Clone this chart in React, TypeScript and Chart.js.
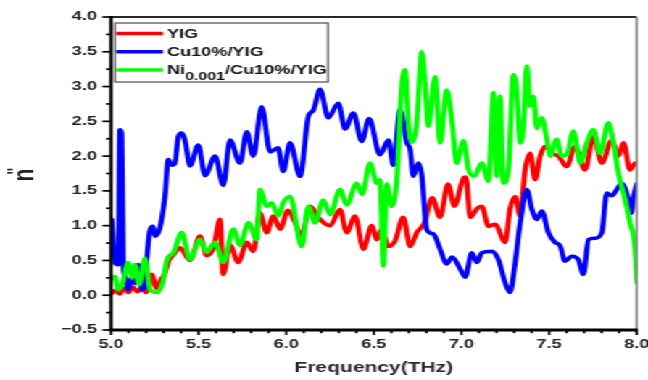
import React, { useEffect, useRef } from "react";
import { Chart, registerables } from "chart.js";

Chart.register(...registerables);

// The figure is laid out on a narrower canvas and widened horizontally.
const CANVAS_W = 447;
const CANVAS_H = 380;
const STRETCH = 648 / CANVAS_W;
const FONT = '"Liberation Sans", Arial, sans-serif';

// YIG
const freqYIG = [
  5.0, 5.025, 5.05, 5.075, 5.1, 5.125, 5.15, 5.175, 5.2, 5.232, 5.26, 5.28, 5.308, 5.33, 5.356,
  5.394, 5.451, 5.508, 5.546, 5.585, 5.622, 5.64, 5.679, 5.726, 5.775, 5.812, 5.85, 5.889, 5.926,
  5.965, 6.01, 6.05, 6.085, 6.136, 6.193, 6.25, 6.307, 6.345, 6.393, 6.44, 6.488, 6.517, 6.545,
  6.583, 6.621, 6.668, 6.707, 6.745, 6.79, 6.833, 6.878, 6.923, 6.96, 7.01, 7.025, 7.05, 7.09,
  7.116, 7.154, 7.192, 7.249, 7.277, 7.306, 7.335, 7.363, 7.392, 7.42, 7.449, 7.478, 7.515, 7.553,
  7.601, 7.648, 7.705, 7.753, 7.801, 7.858, 7.896, 7.924, 7.962, 7.991, 8.0,
];
const nYIG = [
  0.02, 0.07, 0.02, 0.1, 0.04, 0.12, 0.05, 0.1, 0.04, 0.3, 0.1, 0.2, 0.32, 0.5, 0.58,
  0.68, 0.5, 0.85, 0.57, 0.68, 1.09, 0.3, 0.72, 0.47, 0.76, 0.63, 1.18, 0.9, 1.14,
  0.95, 1.22, 1.05, 0.85, 1.28, 1.09, 1.0, 1.23, 0.9, 1.14, 0.66, 1.0, 0.8, 0.95,
  0.7, 0.78, 1.12, 0.7, 0.9, 1.05, 1.4, 1.12, 1.6, 1.28, 1.68, 1.7, 1.12, 1.25,
  1.28, 0.99, 1.02, 0.76, 1.24, 1.42, 1.14, 1.8, 2.04, 1.66, 2.0, 2.14, 2.04, 2.0,
  1.85, 2.14, 1.8, 2.28, 1.9, 2.23, 2.0, 2.19, 1.8, 1.9, 1.88,
];

// Cu10%/YIG
const freqCu = [
  5.004, 5.023, 5.042, 5.051, 5.061, 5.07, 5.08, 5.099, 5.118, 5.137, 5.156, 5.175, 5.194, 5.204,
  5.223, 5.241, 5.251, 5.27, 5.289, 5.308, 5.327, 5.346, 5.365, 5.384, 5.404, 5.422, 5.451, 5.498,
  5.537, 5.594, 5.641, 5.679, 5.736, 5.775, 5.812, 5.86, 5.908, 5.953, 5.983, 6.022, 6.079, 6.126,
  6.155, 6.193, 6.24, 6.297, 6.336, 6.383, 6.431, 6.473, 6.535, 6.583, 6.611, 6.65, 6.688, 6.707,
  6.725, 6.754, 6.773, 6.802, 6.84, 6.878, 6.916, 6.946, 6.992, 7.021, 7.059, 7.088, 7.116, 7.173,
  7.211, 7.249, 7.277, 7.306, 7.335, 7.373, 7.401, 7.43, 7.458, 7.496, 7.534, 7.563, 7.591, 7.63,
  7.667, 7.696, 7.725, 7.763, 7.801, 7.829, 7.858, 7.886, 7.915, 7.953, 7.968, 7.981, 8.0,
];
const nCu = [
  1.09, 0.47, 0.44, 2.38, 2.33, 0.44, 0.26, 0.08, 0.27, 0.17, 0.44, 0.08, 0.12, 0.5,
  0.94, 0.99, 0.85, 0.9, 1.09, 1.42, 1.95, 1.87, 1.9, 2.28, 2.33, 2.23, 1.86, 2.16,
  1.72, 2.0, 1.58, 2.23, 1.9, 2.35, 2.0, 2.71, 2.06, 2.12, 1.78, 2.19, 1.71, 2.57,
  2.66, 2.96, 2.55, 2.76, 2.39, 2.62, 2.21, 2.54, 2.02, 2.23, 1.87, 2.67, 2.19, 2.1,
  1.71, 1.9, 1.74, 0.94, 0.88, 0.66, 0.45, 0.55, 0.38, 0.26, 0.61, 0.47, 0.61, 0.63,
  0.51, 0.18, 0.04, 0.46, 1.04, 1.52, 1.24, 1.09, 1.21, 0.9, 0.76, 0.71, 0.49, 0.56,
  0.51, 0.3, 0.8, 0.82, 0.9, 1.47, 1.43, 1.52, 1.61, 1.37, 1.18, 1.4, 1.6,
];

// Ni0.001/Cu10%/YIG
const freqNi = [
  5.0, 5.023, 5.04, 5.063, 5.099, 5.12, 5.137, 5.16, 5.194, 5.223, 5.263, 5.297, 5.318, 5.356,
  5.404, 5.451, 5.508, 5.546, 5.594, 5.641, 5.698, 5.736, 5.784, 5.832, 5.85, 5.889, 5.917, 5.955,
  5.983, 6.022, 6.088, 6.126, 6.164, 6.212, 6.25, 6.307, 6.345, 6.402, 6.433, 6.478, 6.517, 6.535,
  6.554, 6.574, 6.602, 6.631, 6.659, 6.678, 6.697, 6.716, 6.745, 6.773, 6.792, 6.811, 6.849, 6.878,
  6.916, 6.945, 6.973, 7.011, 7.04, 7.074, 7.116, 7.154, 7.183, 7.202, 7.22, 7.239, 7.268, 7.296,
  7.315, 7.335, 7.353, 7.373, 7.392, 7.411, 7.43, 7.458, 7.487, 7.506, 7.544, 7.572, 7.601, 7.639,
  7.677, 7.715, 7.753, 7.791, 7.838, 7.867, 7.896, 7.934, 7.962, 7.991, 8.0,
];
const nNi = [
  0.23, 0.27, 0.08, 0.15, 0.47, 0.25, 0.44, 0.15, 0.53, 0.08, 0.04, 0.2, 0.5, 0.61,
  0.9, 0.51, 0.8, 0.62, 0.76, 0.47, 0.95, 0.72, 1.04, 0.8, 1.52, 1.28, 1.33, 1.14,
  1.33, 1.42, 0.7, 1.28, 1.04, 1.37, 1.16, 1.52, 1.3, 1.61, 1.45, 1.9, 1.61, 1.66,
  0.42, 1.6, 1.28, 1.66, 3.0, 3.24, 2.48, 2.2, 2.48, 3.5, 3.05, 2.43, 3.14, 2.19,
  2.95, 2.52, 1.9, 2.22, 1.81, 1.71, 1.9, 1.64, 2.91, 1.71, 2.86, 1.61, 1.8, 3.17,
  2.95, 2.19, 2.4, 3.29, 2.72, 2.86, 2.4, 2.55, 2.24, 2.0, 2.24, 2.0, 2.02, 2.36,
  1.9, 2.19, 2.38, 2.04, 2.48, 2.19, 1.75, 1.37, 1.04, 0.66, 0.18,
];

const seriesNames = ["YIG", "Cu10%/YIG", "Ni0.001/Cu10%/YIG"];
const seriesColors = ["#ff0000", "#0000ff", "#00ff00"];
const xTickStep = 0.5;
const yTickStep = 0.5;
const xMinorStep = 0.1;
const yMinorStep = 0.25;

const toPoints = (xs: number[], ys: number[]) => xs.map((x, i) => ({ x, y: ys[i] }));

const fmt = (v: number) => (v < 0 ? "\u2212" + Math.abs(v).toFixed(1) : v.toFixed(1));

// Axis frame, outward major/minor tick marks
const framePlugin = {
  id: "frame",
  afterDraw(chart: any) {
    const { ctx, chartArea, scales } = chart;
    const { left, right, top, bottom } = chartArea;
    const line = (x1: number, y1: number, x2: number, y2: number) => {
      ctx.beginPath();
      ctx.moveTo(x1, y1);
      ctx.lineTo(x2, y2);
      ctx.stroke();
    };
    ctx.save();
    ctx.lineCap = "butt";
    ctx.strokeStyle = "#2a2a2a";
    ctx.lineWidth = 2.2;
    line(left, top, right, top);
    ctx.strokeStyle = "#8c8c8c";
    ctx.lineWidth = 1.6;
    line(right, top, right, bottom);
    ctx.strokeStyle = "#000";
    ctx.lineWidth = 2.3;
    line(left, top - 1, left, bottom + 1.3);
    ctx.lineWidth = 2.8;
    line(left - 1, bottom, right + 0.8, bottom);

    ctx.lineWidth = 1.7;
    const y = scales.y;
    for (let k = 0; ; k++) {
      const v = y.min + k * yMinorStep;
      if (v > y.max + 1e-9) break;
      const major = Math.abs(v / yTickStep - Math.round(v / yTickStep)) < 1e-6;
      const py = y.getPixelForValue(v);
      line(left - (major ? 6 : 3.5), py, left, py);
    }
    const x = scales.x;
    for (let k = 0; ; k++) {
      const v = x.min + k * xMinorStep;
      if (v > x.max + 1e-9) break;
      const major = Math.abs(v / xTickStep - Math.round(v / xTickStep)) < 1e-6;
      const px = x.getPixelForValue(v);
      line(px, bottom, px, bottom + (major ? 5 : 3.2));
    }
    ctx.restore();
  },
};

// Boxed legend with a subscripted composition label
const legendPlugin = {
  id: "boxLegend",
  afterDraw(chart: any) {
    const { ctx } = chart;
    const x0 = 115 / STRETCH;
    const x1 = 328 / STRETCH;
    const y0 = 23;
    const y1 = 82;
    ctx.save();
    ctx.fillStyle = "#fff";
    ctx.fillRect(x0, y0, x1 - x0, y1 - y0);
    ctx.strokeStyle = "#5a5a5a";
    ctx.lineWidth = 1.3;
    ctx.strokeRect(x0, y0, x1 - x0, y1 - y0);
    const rows = [33.5, 51.8, 70];
    const lineStart = 116.5 / STRETCH;
    const lineEnd = 163 / STRETCH;
    const textX = 167 / STRETCH;
    rows.forEach((ry, i) => {
      ctx.strokeStyle = seriesColors[i];
      ctx.lineWidth = 3.4;
      ctx.beginPath();
      ctx.moveTo(lineStart, ry);
      ctx.lineTo(lineEnd, ry);
      ctx.stroke();
      ctx.fillStyle = "#111";
      ctx.textBaseline = "alphabetic";
      ctx.textAlign = "left";
      const base = ry + 4.4;
      const name = seriesNames[i];
      const m = name.match(/^(Ni)([0-9.]+)(\/.*)$/);
      if (m) {
        ctx.font = `bold 12.5px ${FONT}`;
        ctx.fillText(m[1], textX, base);
        let cx = textX + ctx.measureText(m[1]).width;
        ctx.font = `bold 11px ${FONT}`;
        ctx.fillText(m[2], cx, base + 5.5);
        cx += ctx.measureText(m[2]).width;
        ctx.font = `bold 12.5px ${FONT}`;
        ctx.fillText(m[3], cx, base);
      } else {
        ctx.font = `bold 12.5px ${FONT}`;
        ctx.fillText(name, textX, base);
      }
    });
    ctx.restore();
  },
};

// Rotated y-axis title n''
const yTitlePlugin = {
  id: "yTitle",
  afterDraw(chart: any) {
    const { ctx, chartArea } = chart;
    const cy = (chartArea.top + chartArea.bottom) / 2;
    ctx.save();
    ctx.translate(22.8, cy + 8);
    ctx.rotate(-Math.PI / 2);
    ctx.fillStyle = "#222";
    ctx.textBaseline = "alphabetic";
    ctx.textAlign = "left";
    ctx.font = `bold 21px ${FONT}`;
    ctx.fillText("n", 0, 0);
    ctx.font = `bold 14px ${FONT}`;
    ctx.fillText("''", 7, -8);
    ctx.restore();
  },
};

export default function App() {
  const canvasRef = useRef<HTMLCanvasElement>(null);

  useEffect(() => {
    document.body.style.margin = "0";
    const canvas = canvasRef.current;
    if (!canvas) return;
    const tickFont = { family: FONT, size: 12.5, weight: "bold" as const };
    const chart = new Chart(canvas, {
      type: "line",
      data: {
        datasets: [
          { label: seriesNames[0], data: toPoints(freqYIG, nYIG), borderColor: seriesColors[0], order: 2 },
          { label: seriesNames[1], data: toPoints(freqCu, nCu), borderColor: seriesColors[1], order: 1 },
          { label: seriesNames[2], data: toPoints(freqNi, nNi), borderColor: seriesColors[2], order: 0 },
        ],
      },
      options: {
        animation: false,
        responsive: true,
        maintainAspectRatio: false,
        events: [],
        elements: {
          point: { radius: 0 },
          line: {
            borderWidth: 3.6,
            cubicInterpolationMode: "monotone",
            fill: false,
            borderJoinStyle: "round",
            borderCapStyle: "round",
          },
        },
        layout: { padding: { left: 0, right: CANVAS_W - 636.7 / STRETCH, top: 17, bottom: 0 } },
        plugins: { legend: { display: false }, tooltip: { enabled: false } },
        scales: {
          x: {
            type: "linear",
            min: 5,
            max: 8,
            grid: { display: false, drawTicks: false, tickLength: 0 },
            border: { display: false },
            ticks: {
              stepSize: xTickStep,
              autoSkip: false,
              maxRotation: 0,
              padding: 7,
              color: "#222",
              font: tickFont,
              callback: (v: any) => fmt(Number(v)),
            },
            title: {
              display: true,
              text: "Frequency(THz)",
              color: "#2a2a2a",
              font: { family: FONT, size: 14.5, weight: "bold" },
              padding: { top: 0, bottom: 3.2 },
            },
            afterFit: (s: any) => {
              s.height = CANVAS_H - 330;
              s.paddingLeft = 0;
              s.paddingRight = 0;
            },
          },
          y: {
            type: "linear",
            min: -0.5,
            max: 4,
            grid: { display: false, drawTicks: false, tickLength: 0 },
            border: { display: false },
            ticks: {
              stepSize: yTickStep,
              padding: 9.7,
              color: "#222",
              font: tickFont,
              callback: (v: any) => fmt(Number(v)),
            },
            afterFit: (s: any) => {
              s.width = 111 / STRETCH;
              s.paddingTop = 0;
              s.paddingBottom = 0;
            },
          },
        },
      },
      plugins: [framePlugin, legendPlugin, yTitlePlugin],
    });
    return () => chart.destroy();
  }, []);

  return (
    <div
      style={{
        position: "absolute",
        left: 0,
        top: 0,
        width: CANVAS_W,
        height: CANVAS_H,
        transform: `scaleX(${STRETCH})`,
        transformOrigin: "0 0",
        background: "#fff",
      }}
    >
      <canvas ref={canvasRef} />
    </div>
  );
}
